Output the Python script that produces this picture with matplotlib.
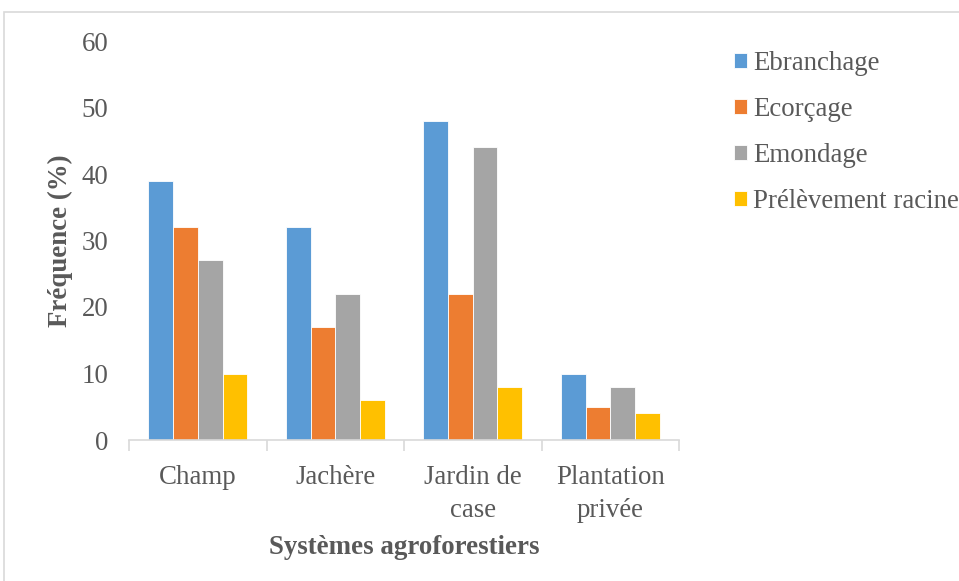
import matplotlib.pyplot as plt
import numpy as np
from matplotlib.patches import Rectangle

# Data
categories = ['Champ', 'Jachère', 'Jardin de\ncase', 'Plantation\nprivée']
series_names = ['Ebranchage', 'Ecorçage', 'Emondage', 'Prélèvement racine']
ebranchage = [39, 32, 48, 10]
ecorcage = [32, 17, 22, 5]
emondage = [27, 22, 44, 8]
prelevement = [10, 6, 8, 4]
colors = ['#5B9BD5', '#ED7D31', '#A5A5A5', '#FFC000']

plt.rcParams['font.family'] = ['Liberation Serif', 'DejaVu Serif']
text_color = '#595959'
fs = 19.4

fig = plt.figure(figsize=(9.59, 5.81), dpi=100)
ax = fig.add_axes([129 / 959, 1 - 440 / 581, 550 / 959, 399 / 581])

# light border around the chart area
fig.patches.append(Rectangle((4 / 959, -0.1), 1.1, 1 - 12 / 581 + 0.1,
                             transform=fig.transFigure, fill=False,
                             edgecolor='#D9D9D9', linewidth=1.2))

x = np.arange(len(categories))
bar_w = 0.18
all_series = [ebranchage, ecorcage, emondage, prelevement]
for i, (vals, name) in enumerate(zip(all_series, series_names)):
    ax.bar(x + (i - 1.5) * bar_w, vals, width=bar_w, color=colors[i],
           label=name, edgecolor='white', linewidth=0.6)

ax.set_xlim(-0.5, len(categories) - 0.5)
ax.set_ylim(0, 60)
ax.set_yticks(range(0, 61, 10))
ax.tick_params(axis='y', length=0, labelsize=fs, colors=text_color, pad=15)

# category labels, tick marks between groups
ax.set_xticks(x)
ax.set_xticklabels(categories, fontsize=fs, color=text_color, linespacing=1.4)
ax.tick_params(axis='x', length=0, pad=18)
ax.set_xticks(np.arange(-0.5, len(categories), 1), minor=True)
ax.tick_params(axis='x', which='minor', length=8, color='#D9D9D9', width=1.2)

for s in ['top', 'right', 'left']:
    ax.spines[s].set_visible(False)
ax.spines['bottom'].set_color('#D9D9D9')
ax.spines['bottom'].set_linewidth(1.2)

ax.set_ylabel('Fréquence (%)', fontsize=fs, fontweight='bold', color=text_color, labelpad=6)
ax.set_xlabel('Systèmes agroforestiers', fontsize=fs, fontweight='bold', color=text_color, labelpad=9)

leg = ax.legend(loc='upper left', bbox_to_anchor=(1.10, 0.975), frameon=False,
                fontsize=fs, handlelength=0.5, handleheight=0.5, handletextpad=0.2,
                labelspacing=0.78, borderaxespad=0, borderpad=0)
for t in leg.get_texts():
    t.set_color(text_color)

fig.savefig('out.png', dpi=100)
